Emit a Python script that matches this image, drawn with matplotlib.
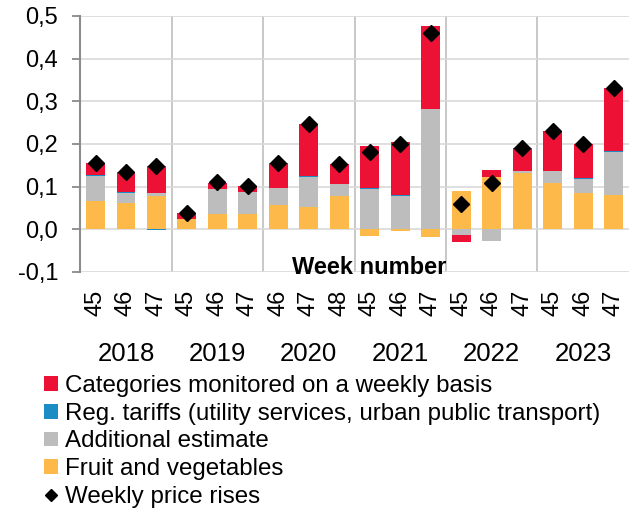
import matplotlib
matplotlib.use("Agg")
import matplotlib.pyplot as plt
import numpy as np
from matplotlib.lines import Line2D
from matplotlib.patches import Patch

plt.rcParams['font.family'] = ['Liberation Sans', 'DejaVu Sans']

years = ["2018", "2019", "2020", "2021", "2022", "2023"]
weeks = ["45", "46", "47", "45", "46", "47", "46", "47", "48",
         "45", "46", "47", "45", "46", "47", "45", "46", "47"]
fruit = [0.066, 0.062, 0.077, 0.023, 0.035, 0.035, 0.057, 0.052, 0.077,
         -0.016, -0.005, -0.018, 0.089, 0.122, 0.131, 0.109, 0.086, 0.080]
additional = [0.059, 0.023, 0.007, 0.0, 0.059, 0.052, 0.040, 0.070, 0.028,
              0.094, 0.078, 0.281, -0.013, -0.028, 0.005, 0.027, 0.032, 0.100]
reg_tariffs = [0.002, 0.003, -0.002, 0.0, 0.0, 0.0, 0.0, 0.002, 0.0,
               0.002, 0.002, 0.0, 0.0, 0.0, 0.0, 0.0, 0.003, 0.003]
weekly_cat = [0.029, 0.047, 0.063, 0.015, 0.015, 0.015, 0.057, 0.122, 0.047,
              0.099, 0.124, 0.196, -0.018, 0.016, 0.054, 0.094, 0.079, 0.147]
total = [0.156, 0.135, 0.148, 0.038, 0.110, 0.101, 0.154, 0.246, 0.152,
         0.180, 0.200, 0.460, 0.060, 0.109, 0.190, 0.230, 0.200, 0.330]

labels = ["Fruit and vegetables", "Additional estimate",
          "Reg. tariffs (utility services, urban public transport)",
          "Categories monitored on a weekly basis"]
colors = ["#FDB94A", "#BDBDBD", "#1B8CC4", "#EE1136"]
series = [fruit, additional, reg_tariffs, weekly_cat]

FS = 17

fig = plt.figure(figsize=(6.32, 5.12), dpi=100)
ax = fig.add_axes([0.127, 0.469, 0.868, 0.500])

x = np.arange(len(weeks))
pos_base = np.zeros(len(x))
neg_base = np.zeros(len(x))
for vals, c in zip(series, colors):
    v = np.array(vals)
    base = np.where(v >= 0, pos_base, neg_base)
    ax.bar(x, v, bottom=base, width=0.62, color=c, edgecolor='none', zorder=3)
    pos_base += np.where(v >= 0, v, 0)
    neg_base += np.where(v < 0, v, 0)

ax.plot(x, total, linestyle='none', marker='D', markersize=8,
        color='black', zorder=5)

ax.set_xlim(-0.5, len(x) - 0.5)
ax.set_ylim(-0.1, 0.5)
yt = np.round(np.arange(-0.1, 0.51, 0.1), 1)
ax.set_yticks(yt)
ax.set_yticklabels([f"{v:.1f}".replace('.', ',') for v in yt], fontsize=FS)
ax.yaxis.grid(True, color='#D9D9D9', linewidth=1.2, zorder=0)
for b in [2.5, 5.5, 8.5, 11.5, 14.5]:
    ax.axvline(b, color='#BFBFBF', linewidth=1.2, zorder=1)

ax.set_xticks(x)
ax.set_xticklabels(weeks, rotation=90, fontsize=FS)
ax.tick_params(axis='x', length=0, pad=13)
ax.tick_params(axis='y', length=6, color='#7F7F7F', width=1.2, pad=10)
for s in ['top', 'right', 'bottom']:
    ax.spines[s].set_visible(False)
ax.spines['left'].set_color('#8C8C8C')
ax.spines['left'].set_linewidth(1.5)

ax.text(0.526, 0.016, "Week number", transform=ax.transAxes,
        ha='center', va='center', fontsize=FS, fontweight='bold', zorder=6)

trans = matplotlib.transforms.blended_transform_factory(ax.transData, fig.transFigure)
for i, y in enumerate(years):
    ax.text(3 * i + 1, 1 - 354 / 512, y, transform=trans, ha='center',
            va='center', fontsize=18.5)

handles = [Patch(facecolor=colors[3]), Patch(facecolor=colors[2]),
           Patch(facecolor=colors[1]), Patch(facecolor=colors[0]),
           Line2D([], [], linestyle='none', marker='D', color='black', markersize=6)]
leg_labels = [labels[3], labels[2], labels[1], labels[0], "Weekly price rises"]
fig.legend(handles, leg_labels, loc='upper left', bbox_to_anchor=(0.07, 0.267),
           frameon=False, fontsize=17.4, handlelength=0.55, handleheight=0.55,
           handletextpad=0.3, labelspacing=0.23, borderpad=0, borderaxespad=0)

fig.savefig("out.png", dpi=100)
